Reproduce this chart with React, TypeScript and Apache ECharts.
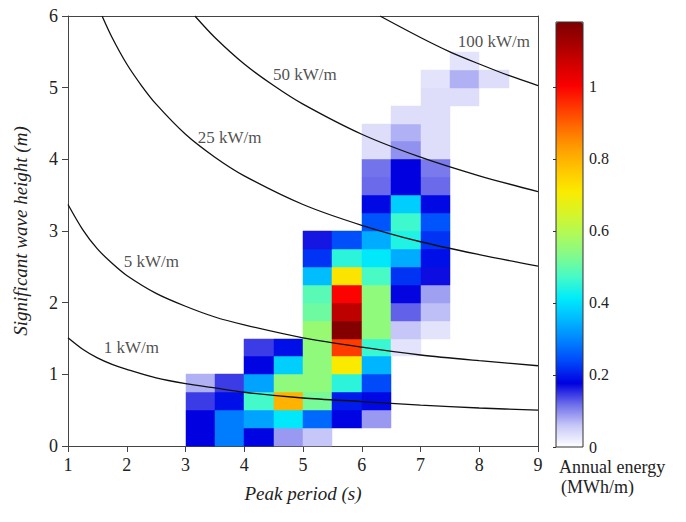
import React, { useEffect, useRef } from 'react';
import * as echarts from 'echarts';

// lower edges of the bins
const periodBins = [3, 3.5, 4, 4.5, 5, 5.5, 6, 6.5, 7, 7.5, 8]; // Peak period (s)
const heightBins = [0, 0.25, 0.5, 0.75, 1, 1.25, 1.5, 1.75, 2, 2.25, 2.5, 2.75, 3, 3.25, 3.5, 3.75, 4, 4.25, 4.5, 4.75, 5, 5.25]; // Hs (m)
const binWidth = 0.5;
const binHeight = 0.25;

// Annual energy (MWh/m), one row per height bin, one column per period bin
const _ = null;
const energy: (number | null)[][] = [
  [0.177, 0.29, 0.18, 0.09, 0.06, _, _, _, _, _, _],
  [0.177, 0.29, 0.33, 0.41, 0.27, 0.18, 0.09, _, _, _, _],
  [0.145, 0.19, 0.47, 0.8, 0.52, 0.2, 0.185, _, _, _, _],
  [0.075, 0.145, 0.33, 0.55, 0.55, 0.45, 0.24, _, _, _, _],
  [_, _, 0.18, 0.38, 0.55, 0.71, 0.35, _, _, _, _],
  [_, _, 0.145, 0.19, 0.55, 0.94, 0.46, 0.03, _, _, _],
  [_, _, _, _, 0.56, 1.17, 0.55, 0.06, 0.03, _, _],
  [_, _, _, _, 0.51, 1.09, 0.55, 0.125, 0.065, _, _],
  [_, _, _, _, 0.49, 1.0, 0.55, 0.175, 0.085, _, _],
  [_, _, _, _, 0.36, 0.72, 0.475, 0.22, 0.17, _, _],
  [_, _, _, _, 0.22, 0.45, 0.41, 0.34, 0.19, _, _],
  [_, _, _, _, 0.165, 0.245, 0.34, 0.44, 0.22, _, _],
  [_, _, _, _, _, _, 0.25, 0.465, 0.25, _, _],
  [_, _, _, _, _, _, 0.185, 0.38, 0.185, _, _],
  [_, _, _, _, _, _, 0.12, 0.177, 0.12, _, _],
  [_, _, _, _, _, _, 0.115, 0.177, 0.11, _, _],
  [_, _, _, _, _, _, 0.035, 0.095, 0.035, _, _],
  [_, _, _, _, _, _, 0.035, 0.075, 0.035, _, _],
  [_, _, _, _, _, _, _, 0.035, 0.035, _, _],
  [_, _, _, _, _, _, _, _, 0.035, 0.035, _],
  [_, _, _, _, _, _, _, _, 0.03, 0.075, 0.035],
  [_, _, _, _, _, _, _, _, _, 0.03, _],
];

// iso-power lines [Tp, Hs]
const line1kW = [[1, 1.51], [1.25, 1.35], [1.5, 1.23], [1.75, 1.14], [2, 1.07], [2.5, 0.95], [3, 0.87], [3.5, 0.81], [4, 0.75], [5, 0.67], [6, 0.62], [7, 0.57], [8, 0.53], [9, 0.5]];
const line5kW = [[1, 3.37], [1.25, 3.02], [1.5, 2.75], [1.75, 2.55], [2, 2.38], [2.5, 2.13], [3, 1.95], [3.5, 1.8], [4, 1.69], [5, 1.51], [6, 1.38], [7, 1.27], [8, 1.19], [9, 1.12]];
const line25kW = [[1.58, 6], [1.75, 5.7], [2, 5.33], [2.25, 5.03], [2.5, 4.77], [3, 4.35], [3.5, 4.03], [4, 3.77], [5, 3.37], [6, 3.08], [7, 2.85], [8, 2.67], [9, 2.51]];
const line50kW = [[3.16, 6], [3.5, 5.7], [4, 5.33], [4.5, 5.03], [5, 4.77], [6, 4.35], [7, 4.03], [8, 3.77], [9, 3.55]];
const line100kW = [[6.31, 6], [7, 5.7], [7.5, 5.5], [8, 5.33], [8.5, 5.17], [9, 5.03]];

const energyMax = 1.18;
const colorStops = [
  '#ffffff', '#c8c8f8', '#6e6eeb', '#0000e1', '#0046fa', '#0082ff', '#00b9ff',
  '#00ebfa', '#46fac8', '#82fa8c', '#affa5a', '#d7f528', '#faeb00', '#ffc800',
  '#ffa000', '#ff6e00', '#ff3700', '#fa0000', '#d20000', '#a50000', '#7d0000',
];

const serif = '"Liberation Serif", "DejaVu Serif", serif';

export default function App() {
  const ref = useRef<HTMLDivElement>(null);
  useEffect(() => {
    if (!ref.current) return;
    const chart = echarts.init(ref.current, null, { renderer: 'svg' });

    const cells: number[][] = [];
    energy.forEach((row, i) => {
      row.forEach((v, j) => {
        if (v !== null) cells.push([periodBins[j], heightBins[i], v]);
      });
    });

    const lineSeries = (data: number[][]) => ({
      type: 'line',
      xAxisIndex: 0,
      yAxisIndex: 0,
      data,
      smooth: 0.3,
      symbol: 'none',
      silent: true,
      z: 3,
      lineStyle: { color: '#111', width: 1.3 },
    });

    const option: any = {
      animation: false,
      backgroundColor: '#ffffff',
      grid: [
        { left: 68, top: 16, width: 470, height: 430, show: false },
        { left: 556, top: 22, width: 27, height: 425, show: false },
      ],
      xAxis: [
        {
          type: 'value', gridIndex: 0, min: 1, max: 9, interval: 1,
          name: 'Peak period (s)', nameLocation: 'middle', nameGap: 38,
          nameTextStyle: { fontFamily: serif, fontStyle: 'italic', fontSize: 19, color: '#222' },
          axisLine: { show: true, onZero: false, lineStyle: { color: '#444', width: 1 } },
          axisTick: { show: true, length: 6, lineStyle: { color: '#444' } },
          axisLabel: { fontFamily: serif, fontSize: 18, color: '#222', margin: 10 },
          splitLine: { show: false },
        },
        {
          type: 'value', gridIndex: 0, position: 'top', min: 1, max: 9,
          axisLine: { show: true, onZero: false, lineStyle: { color: '#444', width: 1 } },
          axisTick: { show: false }, axisLabel: { show: false }, splitLine: { show: false },
        },
        {
          type: 'value', gridIndex: 1, min: 0, max: 1, show: false,
        },
      ],
      yAxis: [
        {
          type: 'value', gridIndex: 0, min: 0, max: 6, interval: 1,
          name: 'Significant wave height (m)', nameLocation: 'middle', nameGap: 38, nameRotate: 90,
          nameTextStyle: { fontFamily: serif, fontStyle: 'italic', fontSize: 19, color: '#222' },
          axisLine: { show: true, onZero: false, lineStyle: { color: '#444', width: 1 } },
          axisTick: { show: true, length: 6, lineStyle: { color: '#444' } },
          axisLabel: { fontFamily: serif, fontSize: 18, color: '#222', margin: 10 },
          splitLine: { show: false },
        },
        {
          type: 'value', gridIndex: 0, position: 'right', min: 0, max: 6,
          axisLine: { show: true, onZero: false, lineStyle: { color: '#444', width: 1 } },
          axisTick: { show: false }, axisLabel: { show: false }, splitLine: { show: false },
        },
        {
          type: 'value', gridIndex: 1, position: 'right', min: 0, max: energyMax, interval: 0.2,
          axisLine: { show: false },
          axisTick: { show: true, inside: true, length: 3, lineStyle: { color: '#333' } },
          axisLabel: {
            fontFamily: serif, fontSize: 16, color: '#222', margin: 6, showMaxLabel: false,
            formatter: (v: number) => (Math.abs(v * 5 - Math.round(v * 5)) < 1e-6 ? String(+v.toFixed(1)) : ''),
          },
          splitLine: { show: false },
        },
      ],
      visualMap: {
        type: 'continuous',
        min: 0,
        max: energyMax,
        dimension: 2,
        seriesIndex: 0,
        orient: 'vertical',
        left: 556,
        top: 22,
        itemWidth: 27,
        itemHeight: 425,
        padding: 0,
        calculable: false,
        hoverLink: false,
        inRange: { color: colorStops },
      },
      graphic: [
        {
          type: 'rect', x: 556, y: 22, z: 100, silent: true,
          shape: { x: 0, y: 0, width: 27, height: 425 },
          style: { fill: 'none', stroke: '#333', lineWidth: 1 },
        },
        {
          type: 'text', x: 559, y: 467, z: 100,
          style: { text: 'Annual energy', font: `18px ${serif}`, fill: '#222', verticalAlign: 'middle' },
        },
        {
          type: 'text', x: 561, y: 487, z: 100,
          style: { text: '(MWh/m)', font: `18px ${serif}`, fill: '#222', verticalAlign: 'middle' },
        },
      ],
      series: [
        {
          type: 'custom',
          xAxisIndex: 0,
          yAxisIndex: 0,
          encode: { x: 0, y: 1 },
          data: cells,
          z: 1,
          silent: true,
          renderItem: (_p: any, api: any) => {
            const t = api.value(0);
            const h = api.value(1);
            const a = api.coord([t, h]);
            const b = api.coord([t + binWidth, h + binHeight]);
            const x0 = Math.round(a[0]);
            const x1 = Math.round(b[0]);
            const y0 = Math.round(a[1]);
            const y1 = Math.round(b[1]);
            const color = api.visual('color');
            return {
              type: 'rect',
              shape: { x: x0, y: y1, width: x1 - x0, height: y0 - y1 },
              style: { fill: color, stroke: color, lineWidth: 0.5 },
            };
          },
        },
        lineSeries(line1kW),
        lineSeries(line5kW),
        lineSeries(line25kW),
        lineSeries(line50kW),
        lineSeries(line100kW),
        {
          type: 'scatter',
          xAxisIndex: 0,
          yAxisIndex: 0,
          symbolSize: 0,
          silent: true,
          z: 4,
          label: {
            show: true, position: 'inside', formatter: '{b}',
            fontFamily: serif, fontSize: 17, color: '#222',
          },
          data: [
            { name: '1 kW/m', value: [2.08, 1.38] },
            { name: '5 kW/m', value: [2.42, 2.57] },
            { name: '25 kW/m', value: [3.75, 4.31] },
            { name: '50 kW/m', value: [5.03, 5.19] },
            { name: '100 kW/m', value: [8.25, 5.64] },
          ],
        },
      ],
    };

    chart.setOption(option);
    return () => chart.dispose();
  }, []);

  return (
    <div
      ref={ref}
      style={{ position: 'fixed', left: 0, top: 0, width: 686, height: 522, background: '#fff' }}
    />
  );
}
